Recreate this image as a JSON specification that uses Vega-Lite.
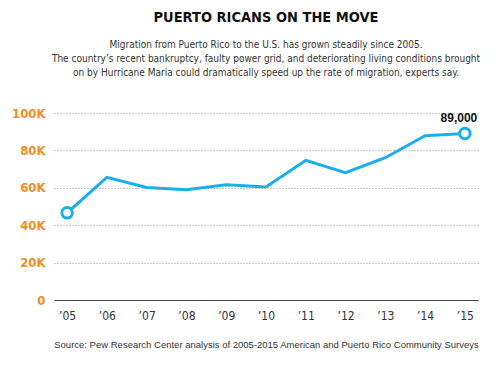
{
  "$schema": "https://vega.github.io/schema/vega-lite/v6.json",
  "width": 424,
  "height": 187,
  "autosize": {"type": "none"},
  "padding": {"left": 54, "top": 113, "right": 18, "bottom": 67},
  "background": "white",
  "title": {
    "text": "PUERTO RICANS ON THE MOVE",
    "subtitle": ["Migration from Puerto Rico to the U.S. has grown steadily since 2005.", "The country’s recent bankruptcy, faulty power grid, and deteriorating living conditions brought", "on by Hurricane Maria could dramatically speed up the rate of migration, experts say."],
    "anchor": "middle",
    "font": "'DejaVu Sans Condensed', Roboto, sans-serif",
    "fontSize": 14.5,
    "fontWeight": "bold",
    "color": "#111111",
    "subtitleFont": "'DejaVu Sans Condensed', Roboto, sans-serif",
    "subtitleFontSize": 10,
    "subtitleColor": "#333333",
    "subtitleLineHeight": 14,
    "subtitlePadding": 15,
    "offset": 28
  },
  "config": {"view": {"stroke": null}},
  "data": {
    "values": [
      {"year": "’05", "value": 46600},
      {"year": "’06", "value": 65600},
      {"year": "’07", "value": 60200},
      {"year": "’08", "value": 58900},
      {"year": "’09", "value": 61600},
      {"year": "’10", "value": 60400},
      {"year": "’11", "value": 74700},
      {"year": "’12", "value": 68100},
      {"year": "’13", "value": 76100},
      {"year": "’14", "value": 87900},
      {"year": "’15", "value": 89000, "label": "89,000"}
    ]
  },
  "encoding": {
    "x": {
      "field": "year",
      "type": "ordinal",
      "sort": null,
      "scale": {"type": "point", "padding": 0.33},
      "axis": {
        "title": "Source: Pew Research Center analysis of 2005-2015 American and Puerto Rico Community Surveys",
        "titleFont": "Liberation Sans",
        "titleFontSize": 9.5,
        "titleFontWeight": "normal",
        "titleColor": "#333333",
        "titlePadding": 18,
        "labelAngle": 0,
        "labelFont": "'DejaVu Sans Condensed', Roboto, sans-serif",
        "labelFontSize": 12,
        "labelColor": "#333333",
        "labelPadding": 10,
        "ticks": false,
        "domainColor": "#444444",
        "domainWidth": 1.2,
        "grid": false
      }
    },
    "y": {
      "field": "value",
      "type": "quantitative",
      "scale": {"domain": [0, 100000]},
      "axis": {
        "title": null,
        "values": [0, 20000, 40000, 60000, 80000, 100000],
        "labelExpr": "datum.value == 0 ? '0' : (datum.value / 1000) + 'K'",
        "labelFont": "'DejaVu Sans Condensed', Roboto, sans-serif",
        "labelFontSize": 13,
        "labelFontWeight": "bold",
        "labelColor": "#f58a2a",
        "labelPadding": 9,
        "ticks": false,
        "domain": false,
        "grid": true,
        "gridColor": "#999999",
        "gridDash": [1, 2],
        "gridWidth": 1
      }
    }
  },
  "layer": [
    {
      "mark": {"type": "line", "color": "#1aaeea", "strokeWidth": 3}
    },
    {
      "transform": [{"filter": "datum.year == '’05' || datum.year == '’15'"}],
      "mark": {"type": "point", "shape": "circle", "filled": true, "fill": "white", "stroke": "#1aaeea", "strokeWidth": 3, "size": 110, "opacity": 1}
    },
    {
      "transform": [{"filter": "datum.label != null"}],
      "mark": {"type": "text", "font": "Liberation Sans", "fontSize": 12, "fontWeight": "bold", "color": "#111111", "dy": -9, "dx": -6, "align": "center", "baseline": "bottom"},
      "encoding": {"text": {"field": "label"}}
    }
  ]
}
